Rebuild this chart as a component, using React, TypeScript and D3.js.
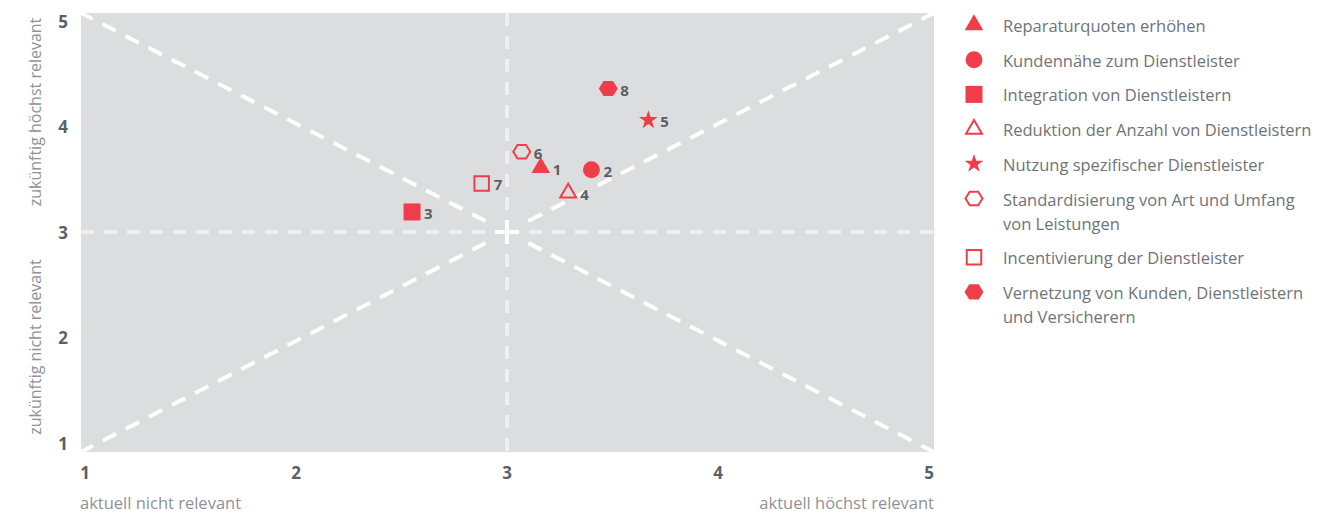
import React from "react";
import * as d3 from "d3";

// Measures: current relevance (x) vs. future relevance (y)
const labels = [
  "Reparaturquoten erhöhen",
  "Kundennähe zum Dienstleister",
  "Integration von Dienstleistern",
  "Reduktion der Anzahl von Dienstleistern",
  "Nutzung spezifischer Dienstleister",
  "Standardisierung von Art und Umfang|von Leistungen",
  "Incentivierung der Dienstleister",
  "Vernetzung von Kunden, Dienstleistern|und Versicherern",
];
const ids = [1, 2, 3, 4, 5, 6, 7, 8];
const currentValues = [3.16, 3.4, 2.55, 3.29, 3.67, 3.07, 2.88, 3.48];
const futureValues = [3.61, 3.59, 3.19, 3.37, 4.06, 3.76, 3.46, 4.36];
const shapes = ["triangle", "circle", "square", "triangleOpen", "star", "hexOpen", "squareOpen", "hex"];
const ticks = [1, 2, 3, 4, 5];

const RED = "#ef3e4a";
const DARK = "#5b5f66";
const TEXT = "#707378";
const LIGHT = "#8f9297";
const BG = "#dcdddf";

const hexPath = (r: number) => {
  const pts = d3.range(6).map((i) => {
    const a = (Math.PI / 3) * i;
    return [r * Math.cos(a), r * Math.sin(a) * 0.92];
  });
  return "M" + pts.map((p) => p.join(",")).join("L") + "Z";
};

function Marker({ shape, x, y }: { shape: string; x: number; y: number }) {
  const t = `translate(${x},${y})`;
  switch (shape) {
    case "triangle":
      return <path transform={t} d={d3.symbol(d3.symbolTriangle, 150)()!} fill={RED} />;
    case "triangleOpen":
      return <path transform={t} d={d3.symbol(d3.symbolTriangle, 110)()!} fill="none" stroke={RED} strokeWidth={2} />;
    case "circle":
      return <path transform={t} d={d3.symbol(d3.symbolCircle, 225)()!} fill={RED} />;
    case "square":
      return <path transform={t} d={d3.symbol(d3.symbolSquare, 289)()!} fill={RED} />;
    case "squareOpen":
      return <path transform={t} d={d3.symbol(d3.symbolSquare, 210)()!} fill="none" stroke={RED} strokeWidth={2} />;
    case "star":
      return <path transform={t} d={d3.symbol(d3.symbolStar, 110)()!} fill={RED} />;
    case "hex":
      return <path transform={t} d={hexPath(9.5)} fill={RED} />;
    case "hexOpen":
      return <path transform={t} d={hexPath(8.5)} fill="none" stroke={RED} strokeWidth={2} />;
  }
  return null;
}

export default function App() {
  const W = 1340;
  const H = 515;
  const x = d3.scaleLinear().domain([1, 5]).range([85, 929]);
  const y = d3.scaleLinear().domain([1, 5]).range([443, 21]);
  const left = 81, right = 934, top = 13, bottom = 452;
  const cx = x(3), cy = y(3);

  const legendRows: number[] = [];
  let ly = 25;
  labels.forEach((l) => {
    legendRows.push(ly);
    ly += 34.7 + (l.split("|").length - 1) * 24;
  });

  // diagonal guides start a little away from the centre
  const corners = [[left, top], [right, top], [left, bottom], [right, bottom]];
  const gap = 24;

  return (
    <svg width={W} height={H} style={{ position: "absolute", left: 0, top: 0 }} fontFamily="'Open Sans', sans-serif">
      <rect x={left} y={top} width={right - left} height={bottom - top} fill={BG} />
      <g stroke="#fff" strokeWidth={4} strokeDasharray="15 11" fill="none">
        {corners.map(([ex, ey], i) => {
          const dx = ex - cx, dy = ey - cy;
          const len = Math.hypot(dx, dy);
          return <line key={i} x1={cx + (dx / len) * gap} y1={cy + (dy / len) * gap} x2={ex} y2={ey} />;
        })}
      </g>
      {/* midlines */}
      <g stroke="#eeeff0" strokeWidth={4} strokeDasharray="13 10" fill="none">
        <line x1={cx - 22} y1={cy} x2={left} y2={cy} />
        <line x1={cx + 22} y1={cy} x2={right} y2={cy} />
        <line x1={cx} y1={cy - 22} x2={cx} y2={top} />
        <line x1={cx} y1={cy + 22} x2={cx} y2={bottom} />
      </g>
      <g stroke="#fff" strokeWidth={4}>
        <line x1={cx - 12} y1={cy} x2={cx + 12} y2={cy} />
        <line x1={cx} y1={cy - 12} x2={cx} y2={cy + 12} />
      </g>

      {/* ticks */}
      <g fill={DARK} fontWeight={700} fontSize={17}>
        {ticks.map((t) => (
          <text key={"y" + t} x={63} y={y(t)} textAnchor="middle" dominantBaseline="central">{t}</text>
        ))}
        {ticks.map((t) => (
          <text key={"x" + t} x={x(t)} y={472} textAnchor="middle" dominantBaseline="central">{t}</text>
        ))}
      </g>

      {/* axis titles */}
      <g fill={LIGHT} fontSize={16.5} fontWeight={400}>
        <text transform={`translate(41,112) rotate(-90)`} textAnchor="middle" fontSize={16}>zukünftig höchst relevant</text>
        <text transform={`translate(41,347) rotate(-90)`} textAnchor="middle" fontSize={16}>zukünftig nicht relevant</text>
        <text x={80} y={509}>aktuell nicht relevant</text>
        <text x={934} y={509} textAnchor="end">aktuell höchst relevant</text>
      </g>

      {/* points */}
      {ids.map((id, i) => {
        const px = x(currentValues[i]);
        const py = y(futureValues[i]);
        return (
          <g key={id}>
            <Marker shape={shapes[i]} x={px} y={py} />
            <text x={px + 12} y={py + 1} fill={DARK} fontWeight={700} fontSize={15} dominantBaseline="central">{id}</text>
          </g>
        );
      })}

      {/* legend */}
      {labels.map((l, i) => (
        <g key={l}>
          <Marker shape={shapes[i]} x={974} y={legendRows[i]} />
          <text x={1003} y={legendRows[i]} fill={TEXT} fontSize={16.5} dominantBaseline="central">
            {l.split("|").map((line, j) => (
              <tspan key={j} x={1003} dy={j === 0 ? 0 : 24}>{line}</tspan>
            ))}
          </text>
        </g>
      ))}
    </svg>
  );
}
